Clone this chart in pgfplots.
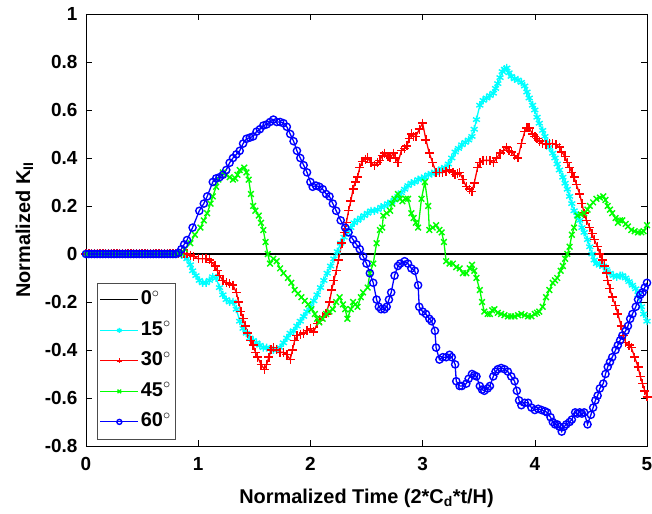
\documentclass[border=0pt]{standalone}
\usepackage{pgfplots}
\pgfplotsset{compat=1.18}
\usepackage{fontspec}
\setmainfont{Liberation Sans}
\definecolor{mcyan}{rgb}{0,1,1}
\definecolor{mred}{rgb}{1,0,0}
\definecolor{mgreen}{rgb}{0,1,0}
\definecolor{mblue}{rgb}{0,0,1}
\begin{document}
\begin{tikzpicture}
\begin{axis}[
 scale only axis, width=561bp, height=432bp,
 xmin=0, xmax=5, ymin=-0.8, ymax=1,
 xtick={0,1,2,3,4,5}, xticklabels={0,1,2,3,4,5},
 ytick={-0.8,-0.6,-0.4,-0.2,0,0.2,0.4,0.6,0.8,1},
 yticklabels={-0.8,-0.6,-0.4,-0.2,0,0.2,0.4,0.6,0.8,1},
 tick align=inside, major tick length=6bp,
 tick style={black, line width=0.6bp},
 axis line style={line width=0.8bp, black},
 ticklabel style={font=\fontsize{19}{22}\selectfont\bfseries},
 xticklabel style={yshift=-8bp},
 yticklabel style={xshift=-5bp},
 xlabel={Normalized Time (2*C\textsubscript{d}*t/H)},
 ylabel={Normalized K\textsubscript{II}},
 label style={font=\fontsize{20}{22}\selectfont\bfseries},
 xlabel style={at={(axis description cs:0.5,-0.092)}, anchor=north},
 ylabel style={at={(axis description cs:-0.088,0.5)}, anchor=south},
 legend style={at={(axis description cs:0.019,0.016)}, anchor=south west,
   font=\fontsize{20}{22}\selectfont\bfseries, draw=black!70,
   inner xsep=3bp, inner ysep=7bp, row sep=10.5bp,
   nodes={inner ysep=1bp, text height=14bp, text depth=4bp}},
 legend cell align=left,
 legend image code/.code={\draw[mark repeat=2,mark phase=2,#1, mark size=2.5bp, line width=1bp] plot coordinates {(0bp,0bp)(19bp,0bp)(38bp,0bp)};},
]
\addplot[black, no markers, line width=1.4bp] coordinates {(0,0) (5,0)};
\addlegendentry{0$^{\circ}$}
\addplot[mcyan, line width=1.3bp, mark=asterisk, mark size=4bp, mark options={line width=1.4bp}] coordinates {
(0,0) (0.025,0) (0.05,0) (0.075,0) (0.1,0) (0.125,0) (0.15,0) (0.175,0) (0.2,0) (0.225,0) (0.25,0) (0.275,0) (0.3,0) (0.325,0) (0.35,0) (0.375,0) (0.4,0) (0.425,0) (0.45,0) (0.475,0) (0.5,0) (0.525,0) (0.55,0) (0.575,0) (0.6,0) (0.625,0) (0.65,0) (0.675,0) (0.7,0) (0.725,0) (0.75,0) (0.775,0) (0.8,0) (0.825,0)
(0.85,-0.003) (0.88,-0.01) (0.90,-0.02) (0.93,-0.045) (0.95,-0.07) (0.98,-0.09) (1.01,-0.11) (1.04,-0.12) (1.07,-0.12) (1.10,-0.11) (1.13,-0.095) (1.16,-0.10) (1.19,-0.14) (1.22,-0.17) (1.25,-0.19) (1.28,-0.20) (1.31,-0.20) (1.34,-0.23) (1.37,-0.28) (1.40,-0.31) (1.43,-0.33) (1.46,-0.35) (1.49,-0.36) (1.52,-0.37) (1.55,-0.38) (1.58,-0.39) (1.61,-0.39) (1.64,-0.395) (1.67,-0.40) (1.70,-0.40) (1.73,-0.39) (1.76,-0.37) (1.79,-0.35) (1.82,-0.33) (1.85,-0.32) (1.88,-0.30) (1.91,-0.28) (1.94,-0.26) (1.97,-0.24) (2.00,-0.22) (2.03,-0.195) (2.06,-0.17) (2.09,-0.14) (2.12,-0.11) (2.15,-0.08) (2.18,-0.05) (2.21,-0.02) (2.24,0.01) (2.27,0.045) (2.30,0.07) (2.33,0.09) (2.36,0.11) (2.39,0.13) (2.42,0.14) (2.45,0.15) (2.48,0.16) (2.51,0.17) (2.54,0.18) (2.57,0.18) (2.60,0.185) (2.63,0.195) (2.66,0.20) (2.69,0.21) (2.72,0.215) (2.75,0.225) (2.78,0.24) (2.81,0.255) (2.84,0.27) (2.87,0.285) (2.90,0.295) (2.93,0.30) (2.96,0.31) (2.99,0.315) (3.02,0.32) (3.05,0.33) (3.08,0.335) (3.11,0.34) (3.14,0.345) (3.17,0.355) (3.20,0.36) (3.23,0.375) (3.26,0.40) (3.29,0.425) (3.32,0.44) (3.35,0.455) (3.38,0.465) (3.41,0.475) (3.44,0.49) (3.46,0.52) (3.48,0.56) (3.51,0.62) (3.54,0.64) (3.57,0.65) (3.60,0.66) (3.63,0.67) (3.65,0.69) (3.67,0.71) (3.69,0.735) (3.71,0.76) (3.73,0.77) (3.75,0.775) (3.77,0.755) (3.79,0.74) (3.82,0.73) (3.85,0.725) (3.88,0.715) (3.91,0.70) (3.93,0.675) (3.95,0.65) (3.98,0.62) (4.00,0.60) (4.02,0.57) (4.04,0.545) (4.07,0.515) (4.09,0.49) (4.11,0.465) (4.13,0.445) (4.16,0.42) (4.18,0.40) (4.20,0.375) (4.22,0.35) (4.25,0.32) (4.27,0.295) (4.29,0.27) (4.31,0.24) (4.33,0.21) (4.35,0.18) (4.38,0.16) (4.40,0.14) (4.42,0.11) (4.44,0.09) (4.47,0.06) (4.49,0.03) (4.51,0.0) (4.53,-0.025) (4.55,-0.04) (4.58,-0.045) (4.61,-0.05) (4.64,-0.065) (4.67,-0.08) (4.70,-0.09) (4.73,-0.095) (4.76,-0.09) (4.78,-0.09) (4.81,-0.10) (4.84,-0.115) (4.87,-0.13) (4.90,-0.145) (4.92,-0.17) (4.95,-0.22) (4.97,-0.25) (5.00,-0.28)
};
\addlegendentry{15$^{\circ}$}
\addplot[mred, line width=1.3bp, mark=+, mark size=4.5bp, mark options={line width=1.4bp}] coordinates {
(0,0) (0.025,0) (0.05,0) (0.075,0) (0.1,0) (0.125,0) (0.15,0) (0.175,0) (0.2,0) (0.225,0) (0.25,0) (0.275,0) (0.3,0) (0.325,0) (0.35,0) (0.375,0) (0.4,0) (0.425,0) (0.45,0) (0.475,0) (0.5,0) (0.525,0) (0.55,0) (0.575,0) (0.6,0) (0.625,0) (0.65,0) (0.675,0) (0.7,0) (0.725,0) (0.75,0) (0.775,0) (0.8,0) (0.825,0) (0.85,0) (0.875,0)
(0.90,0.0) (0.93,-0.005) (0.96,-0.01) (1.00,-0.02) (1.04,-0.02) (1.07,-0.02) (1.10,-0.025) (1.12,-0.035) (1.15,-0.05) (1.17,-0.07) (1.19,-0.09) (1.22,-0.11) (1.25,-0.12) (1.28,-0.125) (1.31,-0.13) (1.34,-0.16) (1.36,-0.20) (1.38,-0.24) (1.40,-0.27) (1.42,-0.30) (1.44,-0.33) (1.47,-0.36) (1.49,-0.38) (1.51,-0.41) (1.53,-0.43) (1.56,-0.46) (1.59,-0.48) (1.61,-0.46) (1.63,-0.43) (1.65,-0.40) (1.67,-0.39) (1.70,-0.40) (1.73,-0.41) (1.76,-0.41) (1.79,-0.42) (1.82,-0.44) (1.84,-0.40) (1.86,-0.36) (1.88,-0.34) (1.91,-0.335) (1.94,-0.33) (1.97,-0.32) (2.00,-0.31) (2.03,-0.325) (2.06,-0.29) (2.08,-0.275) (2.11,-0.26) (2.14,-0.25) (2.17,-0.20) (2.19,-0.15) (2.21,-0.11) (2.23,-0.07) (2.25,-0.025) (2.28,0.045) (2.30,0.09) (2.32,0.13) (2.34,0.18) (2.36,0.22) (2.38,0.27) (2.40,0.30) (2.42,0.32) (2.44,0.36) (2.46,0.385) (2.49,0.395) (2.51,0.40) (2.54,0.38) (2.57,0.37) (2.60,0.38) (2.62,0.39) (2.64,0.41) (2.66,0.42) (2.69,0.405) (2.71,0.40) (2.74,0.42) (2.76,0.40) (2.78,0.38) (2.81,0.43) (2.84,0.44) (2.86,0.45) (2.88,0.48) (2.90,0.50) (2.92,0.49) (2.94,0.49) (2.97,0.52) (3.00,0.545) (3.03,0.475) (3.06,0.42) (3.09,0.38) (3.12,0.34) (3.15,0.34) (3.18,0.34) (3.21,0.345) (3.24,0.35) (3.27,0.34) (3.29,0.33) (3.31,0.335) (3.33,0.34) (3.36,0.31) (3.39,0.28) (3.42,0.27) (3.44,0.26) (3.46,0.295) (3.49,0.36) (3.51,0.38) (3.54,0.39) (3.57,0.39) (3.60,0.39) (3.63,0.38) (3.66,0.40) (3.69,0.42) (3.72,0.43) (3.75,0.445) (3.77,0.43) (3.79,0.425) (3.82,0.41) (3.85,0.40) (3.88,0.46) (3.91,0.51) (3.93,0.525) (3.95,0.525) (3.98,0.50) (4.00,0.49) (4.02,0.48) (4.04,0.47) (4.07,0.46) (4.10,0.455) (4.13,0.46) (4.16,0.46) (4.19,0.455) (4.22,0.445) (4.24,0.425) (4.27,0.405) (4.29,0.38) (4.31,0.36) (4.33,0.34) (4.35,0.32) (4.37,0.29) (4.40,0.25) (4.42,0.21) (4.44,0.17) (4.46,0.14) (4.49,0.11) (4.51,0.085) (4.53,0.06) (4.56,0.03) (4.58,0.0) (4.60,-0.025) (4.62,-0.05) (4.64,-0.08) (4.65,-0.11) (4.67,-0.145) (4.69,-0.18) (4.72,-0.215) (4.74,-0.25) (4.77,-0.30) (4.79,-0.34) (4.81,-0.37) (4.84,-0.38) (4.86,-0.39) (4.89,-0.43) (4.92,-0.47) (4.94,-0.51) (4.96,-0.54) (4.98,-0.57) (5.00,-0.595)
};
\addlegendentry{30$^{\circ}$}
\addplot[mgreen, line width=1.3bp, mark=x, mark size=4bp, mark options={line width=1.4bp}] coordinates {
(0,0) (0.025,0) (0.05,0) (0.075,0) (0.1,0) (0.125,0) (0.15,0) (0.175,0) (0.2,0) (0.225,0) (0.25,0) (0.275,0) (0.3,0) (0.325,0) (0.35,0) (0.375,0) (0.4,0) (0.425,0) (0.45,0) (0.475,0) (0.5,0) (0.525,0) (0.55,0) (0.575,0) (0.6,0) (0.625,0) (0.65,0) (0.675,0) (0.7,0) (0.725,0) (0.75,0) (0.775,0) (0.8,0) (0.825,0)
(0.85,0.005) (0.88,0.02) (0.93,0.045) (0.97,0.08) (1.02,0.11) (1.05,0.14) (1.08,0.17) (1.11,0.21) (1.13,0.24) (1.16,0.28) (1.18,0.31) (1.22,0.34) (1.25,0.33) (1.28,0.32) (1.31,0.31) (1.33,0.315) (1.35,0.33) (1.37,0.35) (1.41,0.36) (1.43,0.34) (1.45,0.31) (1.47,0.25) (1.49,0.20) (1.51,0.18) (1.54,0.16) (1.56,0.13) (1.58,0.10) (1.60,0.05) (1.62,0.0) (1.64,-0.04) (1.67,-0.02) (1.70,-0.03) (1.73,-0.06) (1.76,-0.08) (1.80,-0.10) (1.83,-0.12) (1.86,-0.15) (1.89,-0.165) (1.92,-0.18) (1.95,-0.195) (1.98,-0.21) (2.01,-0.23) (2.04,-0.25) (2.06,-0.27) (2.08,-0.285) (2.11,-0.27) (2.14,-0.25) (2.17,-0.24) (2.20,-0.23) (2.23,-0.20) (2.26,-0.18) (2.29,-0.21) (2.31,-0.23) (2.33,-0.27) (2.36,-0.23) (2.38,-0.20) (2.40,-0.21) (2.42,-0.22) (2.45,-0.18) (2.47,-0.16) (2.51,-0.14) (2.53,-0.08) (2.56,-0.04) (2.59,0.045) (2.62,0.10) (2.64,0.11) (2.65,0.16) (2.68,0.17) (2.71,0.18) (2.73,0.21) (2.75,0.23) (2.78,0.25) (2.80,0.23) (2.82,0.22) (2.85,0.23) (2.87,0.23) (2.90,0.17) (2.92,0.15) (2.94,0.13) (2.96,0.11) (2.99,0.23) (3.02,0.30) (3.05,0.20) (3.06,0.10) (3.09,0.11) (3.12,0.12) (3.15,0.10) (3.17,0.09) (3.19,0.05) (3.21,-0.03) (3.24,-0.04) (3.27,-0.04) (3.30,-0.055) (3.33,-0.06) (3.36,-0.08) (3.39,-0.08) (3.42,-0.06) (3.44,-0.045) (3.46,-0.07) (3.48,-0.10) (3.51,-0.15) (3.53,-0.20) (3.55,-0.24) (3.58,-0.25) (3.60,-0.25) (3.62,-0.235) (3.64,-0.23) (3.67,-0.245) (3.70,-0.25) (3.73,-0.255) (3.76,-0.26) (3.79,-0.26) (3.82,-0.26) (3.85,-0.255) (3.88,-0.25) (3.91,-0.255) (3.94,-0.26) (3.97,-0.26) (4.00,-0.25) (4.02,-0.245) (4.04,-0.24) (4.07,-0.22) (4.10,-0.18) (4.13,-0.15) (4.16,-0.12) (4.18,-0.11) (4.20,-0.10) (4.23,-0.07) (4.25,-0.05) (4.27,-0.02) (4.29,0.0) (4.31,0.03) (4.33,0.08) (4.35,0.11) (4.38,0.16) (4.41,0.165) (4.44,0.17) (4.47,0.185) (4.49,0.20) (4.52,0.215) (4.55,0.23) (4.58,0.235) (4.61,0.24) (4.63,0.225) (4.65,0.20) (4.67,0.185) (4.69,0.17) (4.72,0.15) (4.74,0.13) (4.76,0.14) (4.78,0.14) (4.81,0.125) (4.83,0.115) (4.86,0.10) (4.89,0.095) (4.92,0.09) (4.95,0.09) (4.97,0.095) (5.00,0.12)
};
\addlegendentry{45$^{\circ}$}
\addplot[mblue, line width=1.3bp, mark=o, mark size=3.6bp, mark options={line width=1.4bp}] coordinates {
(0,0) (0.025,0) (0.05,0) (0.075,0) (0.1,0) (0.125,0) (0.15,0) (0.175,0) (0.2,0) (0.225,0) (0.25,0) (0.275,0) (0.3,0) (0.325,0) (0.35,0) (0.375,0) (0.4,0) (0.425,0) (0.45,0) (0.475,0) (0.5,0) (0.525,0) (0.55,0) (0.575,0) (0.6,0) (0.625,0) (0.65,0) (0.675,0) (0.7,0) (0.725,0) (0.75,0) (0.775,0) (0.8,0)
(0.825,0.005) (0.85,0.02) (0.875,0.04) (0.90,0.058) (0.95,0.11) (1.01,0.18) (1.05,0.21) (1.08,0.24) (1.13,0.30) (1.16,0.315) (1.19,0.32) (1.22,0.33) (1.25,0.35) (1.28,0.38) (1.31,0.40) (1.34,0.415) (1.37,0.43) (1.40,0.46) (1.43,0.48) (1.46,0.485) (1.49,0.49) (1.52,0.51) (1.55,0.52) (1.58,0.535) (1.61,0.54) (1.64,0.55) (1.67,0.56) (1.70,0.55) (1.73,0.55) (1.76,0.545) (1.79,0.53) (1.82,0.50) (1.85,0.47) (1.88,0.43) (1.91,0.40) (1.94,0.37) (1.97,0.34) (2.00,0.30) (2.02,0.28) (2.05,0.285) (2.08,0.28) (2.11,0.27) (2.14,0.25) (2.17,0.24) (2.20,0.21) (2.23,0.18) (2.27,0.14) (2.31,0.11) (2.34,0.09) (2.38,0.06) (2.41,0.04) (2.44,0.02) (2.47,-0.01) (2.50,-0.04) (2.53,-0.08) (2.56,-0.12) (2.59,-0.19) (2.61,-0.22) (2.63,-0.23) (2.66,-0.23) (2.68,-0.22) (2.70,-0.19) (2.72,-0.16) (2.75,-0.09) (2.78,-0.05) (2.80,-0.04) (2.84,-0.03) (2.87,-0.04) (2.90,-0.06) (2.93,-0.07) (2.96,-0.13) (2.97,-0.22) (3.00,-0.24) (3.03,-0.25) (3.06,-0.27) (3.08,-0.28) (3.11,-0.32) (3.12,-0.39) (3.15,-0.44) (3.18,-0.43) (3.21,-0.43) (3.24,-0.42) (3.26,-0.43) (3.29,-0.46) (3.30,-0.53) (3.33,-0.55) (3.35,-0.55) (3.39,-0.54) (3.41,-0.52) (3.44,-0.50) (3.46,-0.505) (3.48,-0.51) (3.51,-0.55) (3.53,-0.565) (3.55,-0.57) (3.58,-0.56) (3.60,-0.55) (3.63,-0.51) (3.65,-0.49) (3.67,-0.48) (3.70,-0.475) (3.73,-0.48) (3.76,-0.49) (3.79,-0.51) (3.82,-0.53) (3.84,-0.57) (3.86,-0.61) (3.88,-0.63) (3.91,-0.62) (3.94,-0.62) (3.97,-0.64) (4.00,-0.65) (4.03,-0.645) (4.06,-0.65) (4.09,-0.655) (4.11,-0.66) (4.14,-0.68) (4.16,-0.70) (4.18,-0.71) (4.20,-0.71) (4.22,-0.72) (4.24,-0.74) (4.26,-0.72) (4.28,-0.71) (4.31,-0.70) (4.33,-0.69) (4.36,-0.66) (4.38,-0.665) (4.40,-0.66) (4.42,-0.665) (4.44,-0.66) (4.47,-0.71) (4.50,-0.67) (4.52,-0.64) (4.54,-0.61) (4.56,-0.59) (4.58,-0.56) (4.61,-0.54) (4.63,-0.50) (4.65,-0.47) (4.67,-0.45) (4.69,-0.43) (4.72,-0.40) (4.74,-0.38) (4.76,-0.36) (4.78,-0.34) (4.81,-0.32) (4.83,-0.30) (4.85,-0.27) (4.87,-0.25) (4.90,-0.22) (4.92,-0.19) (4.94,-0.17) (4.96,-0.16) (4.98,-0.14) (5.00,-0.12)
};
\addlegendentry{60$^{\circ}$}
\end{axis}
\pgfresetboundingbox
\path[use as bounding box] (current axis.south west) ++(-86bp,-68bp) rectangle ([xshift=5bp,yshift=14bp]current axis.north east);
\end{tikzpicture}
\end{document}
